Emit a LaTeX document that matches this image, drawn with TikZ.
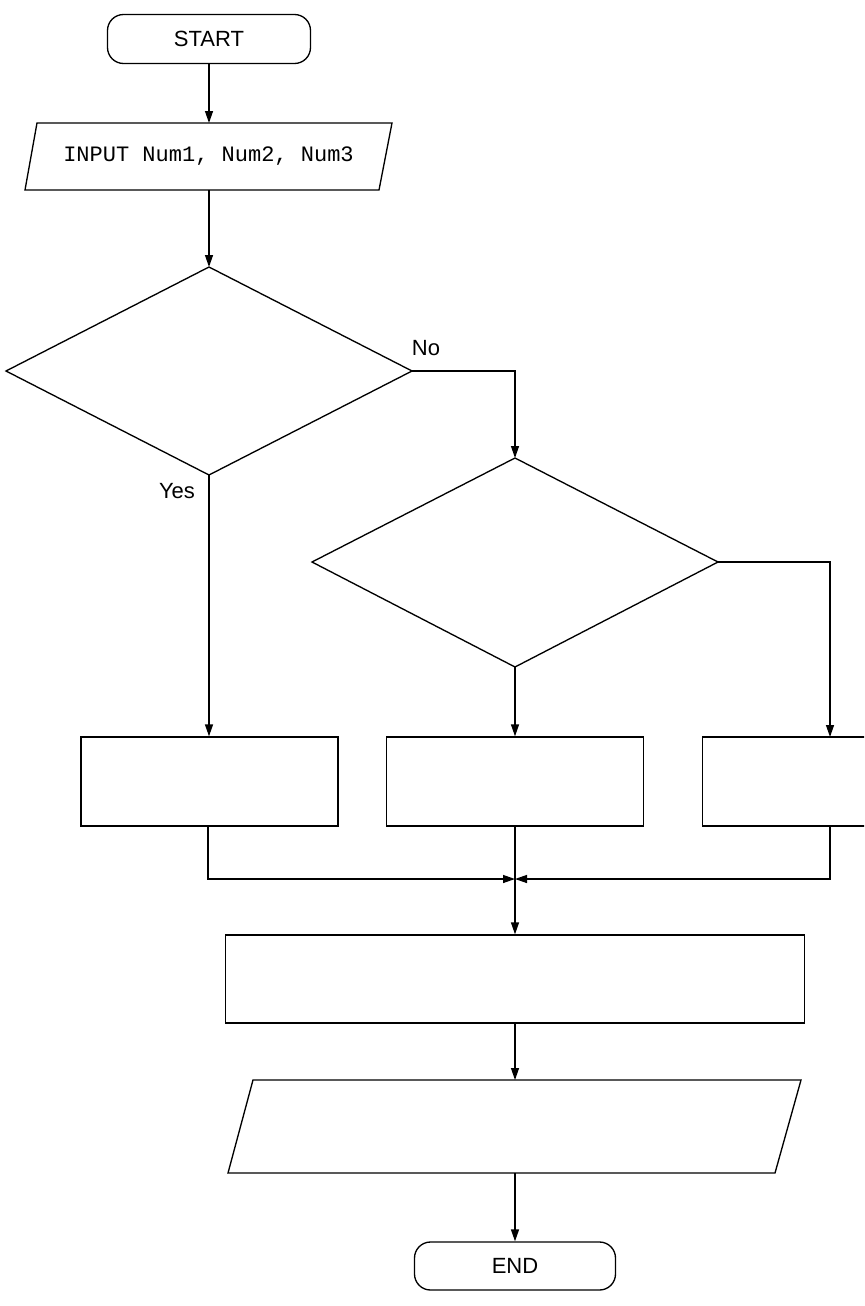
\documentclass[tikz,border=0pt]{standalone}
\usepackage{fontspec}
\setmainfont{Liberation Sans}
\newfontfamily\monof{Liberation Mono}
\usetikzlibrary{arrows.meta}
\begin{document}
\begin{tikzpicture}[x=0.75pt,y=-0.75pt,
  line/.style={draw=black,line width=1pt},
  arr/.style={line,-{Triangle[length=9pt,width=6pt]}},
  lbl/.style={font=\fontsize{16.5}{18}\selectfont}]
\useasboundingbox (0,0) rectangle (864,1306);
\begin{scope}
\clip (0,0) rectangle (864,1306);
\node[line,rounded corners=12pt,minimum width=203*0.75pt,minimum height=49*0.75pt,lbl] (start) at (209,39) {START};
\draw[line] (37,123) -- (392,123) -- (379,190) -- (25,190) -- cycle;
\node[font=\monof\fontsize{16.5}{18}\selectfont] (inp) at (208.5,156.5) {INPUT Num1, Num2, Num3};
\coordinate (inpT) at (209,123); \coordinate (inpB) at (209,190);
\draw[line] (6,371) -- (209,267) -- (412,371) -- (209,475) -- cycle;
\coordinate (d1T) at (209,267); \coordinate (d1R) at (412,371); \coordinate (d1B) at (209,475);
\draw[line] (312,562) -- (515,458) -- (718,562) -- (515,667) -- cycle;
\coordinate (d2T) at (515,458); \coordinate (d2R) at (718,562); \coordinate (d2B) at (515,667);
\node[line,minimum width=257*0.75pt,minimum height=89*0.75pt] (b1) at (209.5,781.5) {};
\node[line,minimum width=257*0.75pt,minimum height=89*0.75pt] (b2) at (515,781.5) {};
\node[line,minimum width=168*0.75pt,minimum height=89*0.75pt,anchor=west] (b3) at (702,781.5) {};
\node[line,minimum width=579*0.75pt,minimum height=88*0.75pt] (b4) at (515,979) {};
\draw[line] (253,1080) -- (801,1080) -- (775,1173) -- (228,1173) -- cycle;
\coordinate (p2T) at (515,1080); \coordinate (p2B) at (515,1173);
\node[line,rounded corners=12pt,minimum width=201*0.75pt,minimum height=48*0.75pt,lbl] (end) at (515,1266) {END};
\coordinate (j) at (515,879);
\draw[arr] (start) -- (inpT);
\draw[arr] (inpB) -- (d1T);
\draw[arr] (d1R) -- (515,371) -- (d2T);
\draw[arr] (d1B) -- (b1.north -| d1B);
\draw[arr] (d2B) -- (b2.north);
\draw[arr] (d2R) -- (830,562) -- (830,737);
\draw[arr] (208,826) -- (208,879) -- (j);
\draw[arr] (830,826) -- (830,879) -- (j);
\draw[arr] (b2.south) -- (b4.north);
\draw[arr] (b4.south) -- (p2T);
\draw[arr] (p2B) -- (end);
\node[lbl] (no) at (426,348) {No};
\node[lbl] (yes) at (177,491) {Yes};
\end{scope}
\end{tikzpicture}
\end{document}
